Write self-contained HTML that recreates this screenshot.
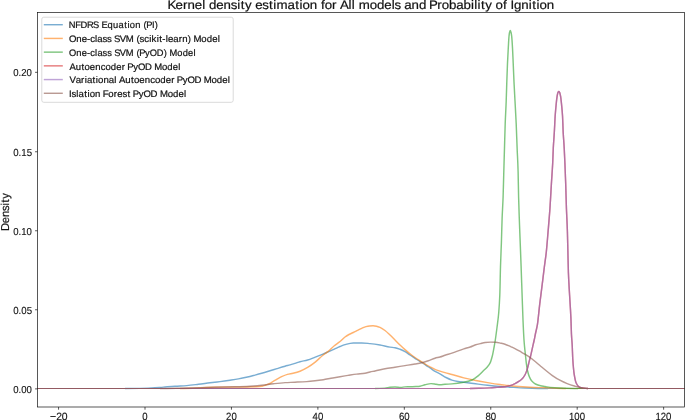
<!DOCTYPE html>
<html><head><meta charset="utf-8"><title>KDE chart</title>
<style>
html,body{margin:0;padding:0;background:#fff;}
body{width:685px;height:420px;overflow:hidden;font-family:"Liberation Sans", sans-serif;}
svg{display:block;}
#main{filter:blur(0.28px);}

</style></head>
<body>
<svg id="main" width="685" height="420" viewBox="0 0 685 420" text-rendering="geometricPrecision">
<rect x="0" y="0" width="685" height="420" fill="#fff"/>
<clipPath id="axA"><rect x="37.45" y="12.45" width="647.05" height="394.55"/></clipPath>
<g clip-path="url(#axA)" fill="none" stroke-linejoin="round" stroke-linecap="butt">
<path d="M37.45,388.50L125.00,388.50M548.00,388.50L684.50,388.50" stroke="#1f77b4" stroke-opacity="0.6" stroke-width="1.0"/>
<path d="M125.00,388.50C130.00,388.50 135.00,388.46 140.00,388.40C143.90,388.36 147.80,388.18 151.70,388.00C155.60,387.82 159.50,387.40 163.40,387.10C167.27,386.80 171.13,386.44 175.00,386.20C178.90,385.96 182.80,385.87 186.70,385.60C190.60,385.33 194.50,384.77 198.40,384.30C202.27,383.84 206.13,383.28 210.00,382.80C213.33,382.39 216.67,382.03 220.00,381.60C223.33,381.17 226.67,380.69 230.00,380.20C232.80,379.79 235.60,379.40 238.40,378.90C241.43,378.36 244.47,377.70 247.50,377.00C250.00,376.43 252.50,375.75 255.00,375.10C257.23,374.52 259.47,373.93 261.70,373.30C264.47,372.52 267.23,371.65 270.00,370.80C272.33,370.08 274.67,369.31 277.00,368.60C279.70,367.78 282.40,366.95 285.10,366.20C286.73,365.74 288.37,365.36 290.00,364.90C291.67,364.43 293.33,363.93 295.00,363.40C296.67,362.87 298.33,362.16 300.00,361.70C302.53,361.01 305.07,360.71 307.60,360.00C310.13,359.29 312.67,358.08 315.20,357.10C317.77,356.11 320.33,355.16 322.90,354.10C324.67,353.37 326.43,352.57 328.20,351.80C330.23,350.91 332.27,350.01 334.30,349.10C336.20,348.25 338.10,347.29 340.00,346.50C341.67,345.81 343.33,345.04 345.00,344.60C347.77,343.87 350.53,343.06 353.30,343.00C356.10,342.94 358.90,342.90 361.70,342.90C364.47,342.90 367.23,343.31 370.00,343.60C373.33,343.95 376.67,344.44 380.00,345.00C383.33,345.56 386.67,346.61 390.00,347.10C391.67,347.35 393.33,347.41 395.00,347.70C396.67,347.99 398.33,348.66 400.00,349.30C401.67,349.94 403.33,350.77 405.00,351.70C406.67,352.63 408.33,353.90 410.00,355.00C411.67,356.10 413.33,357.22 415.00,358.30C416.67,359.38 418.33,360.52 420.00,361.50C421.10,362.14 422.20,362.61 423.30,363.30C424.43,364.01 425.57,365.03 426.70,365.80C427.80,366.55 428.90,367.18 430.00,367.90C431.67,368.99 433.33,370.34 435.00,371.30C436.67,372.26 438.33,372.88 440.00,373.80C442.00,374.90 444.00,376.47 446.00,377.50C447.97,378.51 449.93,379.50 451.90,380.10C453.90,380.71 455.90,381.16 457.90,381.50C459.87,381.84 461.83,382.04 463.80,382.30C467.77,382.82 471.73,383.32 475.70,383.80C479.67,384.28 483.63,384.78 487.60,385.20C491.73,385.64 495.87,386.05 500.00,386.40C504.00,386.74 508.00,387.05 512.00,387.30C516.33,387.57 520.67,387.86 525.00,388.00C532.67,388.25 540.33,388.50 548.00,388.50" stroke="#1f77b4" stroke-opacity="0.6" stroke-width="1.45"/>
<path d="M37.45,388.50L180.00,388.50M566.00,388.50L684.50,388.50" stroke="#ff7f0e" stroke-opacity="0.6" stroke-width="1.0"/>
<path d="M180.00,388.50C186.67,388.50 193.33,388.24 200.00,388.00C205.00,387.82 210.00,387.10 215.00,387.10C222.80,387.10 230.60,387.10 238.40,387.10C244.23,387.10 250.07,386.98 255.90,386.80C258.00,386.73 260.10,386.59 262.20,386.30C263.47,386.13 264.73,385.46 266.00,385.00C267.30,384.53 268.60,384.13 269.90,383.50C270.93,383.00 271.97,382.13 273.00,381.50C274.17,380.79 275.33,380.15 276.50,379.50C278.20,378.55 279.90,377.49 281.60,376.70C283.53,375.81 285.47,374.94 287.40,374.40C289.27,373.88 291.13,373.65 293.00,373.20C295.33,372.63 297.67,372.05 300.00,371.20C302.53,370.28 305.07,368.88 307.60,367.40C310.13,365.92 312.67,364.09 315.20,362.10C317.77,360.09 320.33,357.23 322.90,355.20C324.67,353.80 326.43,352.83 328.20,351.40C330.23,349.76 332.27,347.37 334.30,345.70C336.20,344.14 338.10,343.04 340.00,341.50C341.67,340.15 343.33,338.22 345.00,337.00C346.33,336.02 347.67,335.21 349.00,334.50C350.43,333.73 351.87,333.19 353.30,332.50C354.70,331.83 356.10,331.10 357.50,330.40C358.90,329.70 360.30,328.92 361.70,328.30C363.13,327.67 364.57,326.94 366.00,326.60C367.17,326.32 368.33,326.10 369.50,326.00C370.67,325.90 371.83,325.80 373.00,325.80C374.17,325.80 375.33,326.00 376.50,326.20C377.67,326.40 378.83,326.89 380.00,327.40C381.67,328.12 383.33,329.28 385.00,330.50C386.67,331.72 388.33,333.42 390.00,335.00C391.67,336.58 393.33,338.33 395.00,340.00C396.67,341.67 398.33,343.40 400.00,345.00C401.67,346.60 403.33,348.14 405.00,349.60C406.67,351.06 408.33,352.49 410.00,353.80C411.67,355.11 413.33,356.34 415.00,357.50C416.67,358.66 418.33,359.72 420.00,360.80C421.10,361.51 422.20,362.21 423.30,362.90C424.43,363.61 425.57,364.32 426.70,365.00C427.80,365.66 428.90,366.31 430.00,366.90C431.67,367.80 433.33,368.73 435.00,369.40C436.67,370.07 438.33,370.57 440.00,371.10C441.67,371.63 443.33,372.12 445.00,372.60C447.30,373.26 449.60,373.86 451.90,374.50C455.87,375.61 459.83,376.92 463.80,377.90C467.77,378.88 471.73,379.73 475.70,380.50C479.67,381.27 483.63,381.95 487.60,382.60C491.73,383.28 495.87,383.95 500.00,384.50C501.67,384.72 503.33,384.90 505.00,385.10C508.33,385.50 511.67,386.01 515.00,386.30C520.00,386.74 525.00,387.08 530.00,387.30C535.00,387.52 540.00,387.63 545.00,387.80C552.00,388.03 559.00,388.50 566.00,388.50" stroke="#ff7f0e" stroke-opacity="0.6" stroke-width="1.45"/>
<path d="M37.45,388.50L375.00,388.50M578.00,388.50L684.50,388.50" stroke="#2ca02c" stroke-opacity="0.6" stroke-width="1.0"/>
<path d="M375.00,388.50C378.33,388.50 381.67,388.33 385.00,388.10C386.67,387.99 388.33,387.45 390.00,387.30C391.67,387.15 393.33,387.00 395.00,387.00C397.00,387.00 399.00,387.40 401.00,387.40C402.33,387.40 403.67,386.95 405.00,386.90C406.67,386.84 408.33,386.85 410.00,386.80C412.00,386.74 414.00,386.62 416.00,386.50C417.33,386.42 418.67,386.35 420.00,386.20C421.67,386.01 423.33,385.19 425.00,384.80C427.00,384.33 429.00,383.60 431.00,383.60C432.67,383.60 434.33,383.98 436.00,384.20C437.33,384.38 438.67,384.80 440.00,384.80C441.67,384.80 443.33,384.42 445.00,384.30C447.33,384.13 449.67,384.08 452.00,383.90C455.93,383.59 459.87,383.03 463.80,382.30C466.57,381.79 469.33,381.12 472.10,380.00C474.10,379.19 476.10,377.52 478.10,375.90C479.70,374.60 481.30,372.75 482.90,371.20C484.37,369.78 485.83,368.69 487.30,367.00C488.20,365.96 489.10,364.97 490.00,363.20C490.77,361.70 491.53,358.98 492.30,356.00C492.90,353.67 493.50,350.25 494.10,347.00C494.50,344.84 494.90,342.59 495.30,340.00C495.87,336.34 496.43,331.98 497.00,327.50C497.58,322.88 498.17,319.29 498.75,312.50C499.10,308.43 499.45,303.53 499.80,295.00C500.03,289.32 500.27,273.96 500.50,266.40C500.80,256.68 501.10,251.57 501.40,242.60C501.63,235.62 501.87,225.08 502.10,218.80C502.43,209.83 502.77,206.24 503.10,197.00C503.33,190.53 503.57,179.62 503.80,171.40C504.03,163.18 504.27,155.53 504.50,147.60C504.73,139.67 504.97,130.24 505.20,123.80C505.53,114.59 505.87,109.94 506.20,101.00C506.40,95.64 506.60,87.94 506.80,82.10C507.03,75.28 507.27,68.34 507.50,63.10C507.77,57.12 508.03,52.59 508.30,47.90C508.53,43.80 508.77,38.63 509.00,36.40C509.20,34.49 509.40,33.03 509.60,32.30C509.83,31.45 510.07,30.60 510.30,30.60C510.53,30.60 510.77,31.50 511.00,32.30C511.23,33.10 511.47,34.48 511.70,36.40C511.97,38.60 512.23,43.27 512.50,47.90C512.73,51.95 512.97,57.81 513.20,63.10C513.47,69.14 513.73,76.46 514.00,82.10C514.33,89.15 514.67,94.68 515.00,101.00C515.40,108.58 515.80,114.89 516.20,123.80C516.50,130.49 516.80,140.08 517.10,147.60C517.43,155.96 517.77,160.11 518.10,171.40C518.27,177.04 518.43,190.46 518.60,197.00C518.83,206.16 519.07,212.10 519.30,218.80C519.60,227.41 519.90,234.67 520.20,242.60C520.50,250.53 520.80,258.16 521.10,266.40C521.43,275.55 521.77,285.61 522.10,295.00C522.40,303.45 522.70,313.00 523.00,320.00C523.33,327.77 523.67,335.15 524.00,340.00C524.20,342.91 524.40,345.00 524.60,347.10C524.90,350.26 525.20,352.72 525.50,355.50C525.80,358.28 526.10,361.60 526.40,363.80C526.80,366.74 527.20,369.27 527.60,371.00C528.20,373.59 528.80,375.51 529.40,376.90C530.20,378.75 531.00,380.20 531.80,381.10C533.00,382.46 534.20,383.41 535.40,384.00C537.17,384.87 538.93,385.42 540.70,385.80C542.13,386.11 543.57,386.26 545.00,386.50C546.67,386.78 548.33,387.23 550.00,387.40C553.33,387.74 556.67,387.92 560.00,388.05C566.00,388.28 572.00,388.50 578.00,388.50" stroke="#2ca02c" stroke-opacity="0.6" stroke-width="1.45"/>
<path d="M37.45,388.50L470.00,388.50M588.00,388.50L684.50,388.50" stroke="#d62728" stroke-opacity="0.6" stroke-width="1.0"/>
<path d="M470.00,388.50C473.33,388.50 476.67,388.39 480.00,388.30C483.33,388.21 486.67,388.07 490.00,387.90C492.33,387.78 494.67,387.57 497.00,387.40C499.67,387.20 502.33,387.12 505.00,386.80C506.67,386.60 508.33,386.10 510.00,385.60C511.67,385.10 513.33,384.41 515.00,383.60C516.33,382.96 517.67,382.07 519.00,381.20C519.90,380.61 520.80,380.13 521.70,379.30C522.87,378.23 524.03,376.67 525.20,374.50C525.93,373.14 526.67,370.97 527.40,368.60C528.00,366.66 528.60,363.78 529.20,361.40C529.80,359.02 530.40,356.83 531.00,354.30C531.53,352.05 532.07,349.48 532.60,347.10C533.13,344.72 533.67,342.51 534.20,340.00C534.60,338.11 535.00,335.93 535.40,334.00C536.07,330.78 536.73,328.74 537.40,324.70C538.17,320.06 538.93,310.69 539.70,304.30C540.47,297.91 541.23,292.37 542.00,286.20C542.73,280.30 543.47,273.92 544.20,268.10C544.90,262.55 545.60,258.46 546.30,252.00C546.90,246.46 547.50,238.57 548.10,231.40C548.73,223.83 549.37,216.81 550.00,207.60C550.47,200.82 550.93,191.49 551.40,183.80C551.83,176.66 552.27,171.72 552.70,163.00C552.90,158.98 553.10,151.79 553.30,147.90C553.63,141.42 553.97,138.26 554.30,132.60C554.60,127.51 554.90,119.82 555.20,115.50C555.53,110.70 555.87,107.24 556.20,104.00C556.50,101.09 556.80,98.21 557.10,96.40C557.37,94.79 557.63,93.12 557.90,92.60C558.20,92.01 558.50,91.50 558.80,91.50C559.10,91.50 559.40,92.03 559.70,92.60C560.00,93.17 560.30,94.71 560.60,96.40C560.90,98.09 561.20,101.09 561.50,104.00C561.83,107.24 562.17,110.17 562.50,115.50C562.73,119.23 562.97,128.15 563.20,132.60C563.53,138.96 563.87,141.87 564.20,147.90C564.43,152.12 564.67,157.51 564.90,163.00C565.17,169.27 565.43,175.92 565.70,183.80C565.93,190.70 566.17,201.00 566.40,207.60C566.73,217.03 567.07,221.03 567.40,231.40C567.57,236.58 567.73,245.13 567.90,252.00C568.07,258.87 568.23,268.06 568.40,272.60C568.80,283.50 569.20,287.95 569.60,295.20C570.03,303.06 570.47,308.23 570.90,317.90C571.10,322.36 571.30,331.16 571.50,335.00C571.73,339.48 571.97,340.78 572.20,345.00C572.40,348.62 572.60,356.40 572.80,359.50C573.27,366.74 573.73,371.39 574.20,374.30C574.90,378.66 575.60,381.72 576.30,383.20C577.20,385.10 578.10,386.47 579.00,386.90C580.47,387.60 581.93,387.91 583.40,388.10C584.93,388.30 586.47,388.50 588.00,388.50" stroke="#d62728" stroke-opacity="0.6" stroke-width="1.45"/>
<path d="M37.45,388.50L470.00,388.50M588.00,388.50L684.50,388.50" stroke="#9467bd" stroke-opacity="0.6" stroke-width="1.0"/>
<path d="M470.00,388.50C473.33,388.50 476.67,388.39 480.00,388.30C483.33,388.21 486.67,388.07 490.00,387.90C492.33,387.78 494.67,387.57 497.00,387.40C499.67,387.20 502.33,387.12 505.00,386.80C506.67,386.60 508.33,386.10 510.00,385.60C511.67,385.10 513.33,384.41 515.00,383.60C516.33,382.96 517.67,382.07 519.00,381.20C519.90,380.61 520.80,380.13 521.70,379.30C522.87,378.23 524.03,376.67 525.20,374.50C525.93,373.14 526.67,370.97 527.40,368.60C528.00,366.66 528.60,363.78 529.20,361.40C529.80,359.02 530.40,356.83 531.00,354.30C531.53,352.05 532.07,349.48 532.60,347.10C533.13,344.72 533.67,342.51 534.20,340.00C534.60,338.11 535.00,335.93 535.40,334.00C536.07,330.78 536.73,328.74 537.40,324.70C538.17,320.06 538.93,310.69 539.70,304.30C540.47,297.91 541.23,292.37 542.00,286.20C542.73,280.30 543.47,273.92 544.20,268.10C544.90,262.55 545.60,258.46 546.30,252.00C546.90,246.46 547.50,238.57 548.10,231.40C548.73,223.83 549.37,216.81 550.00,207.60C550.47,200.82 550.93,191.49 551.40,183.80C551.83,176.66 552.27,171.72 552.70,163.00C552.90,158.98 553.10,151.79 553.30,147.90C553.63,141.42 553.97,138.26 554.30,132.60C554.60,127.51 554.90,119.82 555.20,115.50C555.53,110.70 555.87,107.24 556.20,104.00C556.50,101.09 556.80,98.21 557.10,96.40C557.37,94.79 557.63,93.12 557.90,92.60C558.20,92.01 558.50,91.50 558.80,91.50C559.10,91.50 559.40,92.03 559.70,92.60C560.00,93.17 560.30,94.71 560.60,96.40C560.90,98.09 561.20,101.09 561.50,104.00C561.83,107.24 562.17,110.17 562.50,115.50C562.73,119.23 562.97,128.15 563.20,132.60C563.53,138.96 563.87,141.87 564.20,147.90C564.43,152.12 564.67,157.51 564.90,163.00C565.17,169.27 565.43,175.92 565.70,183.80C565.93,190.70 566.17,201.00 566.40,207.60C566.73,217.03 567.07,221.03 567.40,231.40C567.57,236.58 567.73,245.13 567.90,252.00C568.07,258.87 568.23,268.06 568.40,272.60C568.80,283.50 569.20,287.95 569.60,295.20C570.03,303.06 570.47,308.23 570.90,317.90C571.10,322.36 571.30,331.16 571.50,335.00C571.73,339.48 571.97,340.78 572.20,345.00C572.40,348.62 572.60,356.40 572.80,359.50C573.27,366.74 573.73,371.39 574.20,374.30C574.90,378.66 575.60,381.72 576.30,383.20C577.20,385.10 578.10,386.47 579.00,386.90C580.47,387.60 581.93,387.91 583.40,388.10C584.93,388.30 586.47,388.50 588.00,388.50" stroke="#9467bd" stroke-opacity="0.6" stroke-width="1.45"/>
<path d="M37.45,388.50L160.00,388.50M588.00,388.50L684.50,388.50" stroke="#8c564b" stroke-opacity="0.6" stroke-width="1.0"/>
<path d="M160.00,388.50C166.67,388.50 173.33,388.36 180.00,388.25C186.67,388.14 193.33,387.98 200.00,387.80C205.00,387.66 210.00,387.44 215.00,387.30C221.67,387.11 228.33,387.01 235.00,386.80C240.00,386.64 245.00,386.47 250.00,386.20C253.90,385.99 257.80,385.68 261.70,385.30C265.60,384.92 269.50,384.13 273.40,383.70C277.30,383.27 281.20,382.82 285.10,382.60C288.40,382.42 291.70,382.35 295.00,382.20C298.90,382.02 302.80,381.87 306.70,381.60C309.47,381.41 312.23,381.11 315.00,380.80C317.77,380.49 320.53,380.12 323.30,379.70C325.87,379.31 328.43,378.76 331.00,378.30C334.00,377.76 337.00,377.21 340.00,376.70C342.67,376.25 345.33,375.82 348.00,375.40C350.90,374.95 353.80,374.44 356.70,374.10C359.47,373.78 362.23,373.70 365.00,373.30C366.67,373.06 368.33,372.38 370.00,372.00C371.67,371.62 373.33,371.35 375.00,371.00C378.33,370.31 381.67,369.42 385.00,368.80C388.33,368.18 391.67,367.73 395.00,367.20C398.33,366.67 401.67,366.13 405.00,365.60C408.33,365.07 411.67,364.57 415.00,364.00C417.23,363.62 419.47,363.30 421.70,362.80C423.90,362.30 426.10,361.55 428.30,360.80C430.53,360.04 432.77,358.85 435.00,358.20C436.67,357.71 438.33,357.47 440.00,357.00C441.67,356.53 443.33,355.85 445.00,355.30C447.30,354.54 449.60,353.87 451.90,353.10C455.87,351.78 459.83,350.17 463.80,348.90C465.93,348.22 468.07,347.73 470.20,347.00C472.03,346.37 473.87,345.37 475.70,344.80C477.27,344.31 478.83,343.98 480.40,343.60C482.00,343.21 483.60,342.68 485.20,342.50C487.03,342.30 488.87,342.10 490.70,342.10C492.40,342.10 494.10,342.14 495.80,342.20C497.50,342.26 499.20,342.83 500.90,343.20C502.27,343.50 503.63,343.78 505.00,344.20C507.03,344.82 509.07,345.92 511.10,346.80C512.23,347.29 513.37,347.75 514.50,348.30C516.77,349.40 519.03,350.79 521.30,352.10C522.20,352.62 523.10,353.17 524.00,353.70C525.50,354.58 527.00,355.32 528.50,356.30C530.20,357.42 531.90,358.84 533.60,360.20C535.97,362.09 538.33,364.21 540.70,366.20C542.13,367.41 543.57,368.64 545.00,369.80C547.47,371.80 549.93,373.89 552.40,375.60C554.87,377.31 557.33,378.90 559.80,380.20C562.27,381.50 564.73,382.65 567.20,383.60C569.63,384.53 572.07,385.29 574.50,386.00C576.50,386.59 578.50,387.26 580.50,387.60C583.00,388.02 585.50,388.50 588.00,388.50" stroke="#8c564b" stroke-opacity="0.6" stroke-width="1.45"/>
</g>
<g stroke="#111" stroke-width="0.7" fill="none">
<rect x="37.45" y="12.45" width="647.05" height="394.55"/>
<line x1="58.56" y1="407.0" x2="58.56" y2="409.7" stroke="#111" stroke-width="0.7"/>
<line x1="145.00" y1="407.0" x2="145.00" y2="409.7" stroke="#111" stroke-width="0.7"/>
<line x1="231.44" y1="407.0" x2="231.44" y2="409.7" stroke="#111" stroke-width="0.7"/>
<line x1="317.88" y1="407.0" x2="317.88" y2="409.7" stroke="#111" stroke-width="0.7"/>
<line x1="404.32" y1="407.0" x2="404.32" y2="409.7" stroke="#111" stroke-width="0.7"/>
<line x1="490.76" y1="407.0" x2="490.76" y2="409.7" stroke="#111" stroke-width="0.7"/>
<line x1="577.20" y1="407.0" x2="577.20" y2="409.7" stroke="#111" stroke-width="0.7"/>
<line x1="663.64" y1="407.0" x2="663.64" y2="409.7" stroke="#111" stroke-width="0.7"/>
<line x1="35.050000000000004" y1="388.88" x2="37.45" y2="388.88" stroke="#111" stroke-width="0.7"/>
<line x1="35.050000000000004" y1="309.76" x2="37.45" y2="309.76" stroke="#111" stroke-width="0.7"/>
<line x1="35.050000000000004" y1="230.76" x2="37.45" y2="230.76" stroke="#111" stroke-width="0.7"/>
<line x1="35.050000000000004" y1="151.76" x2="37.45" y2="151.76" stroke="#111" stroke-width="0.7"/>
<line x1="35.050000000000004" y1="72.32" x2="37.45" y2="72.32" stroke="#111" stroke-width="0.7"/>
</g>
<g font-family='"Liberation Sans", sans-serif' fill="#222">
<text transform="translate(49.55,419.80) scale(0.9886,1)" x="0.47 6.87 12.26" y="0" font-size="10.55" fill="#111" stroke="#111" stroke-width="0.12" >−20</text>
<text transform="translate(142.34,419.80) scale(0.9091,1)" x="0.00" y="0" font-size="10.55" fill="#111" stroke="#111" stroke-width="0.12" >0</text>
<text transform="translate(226.08,419.80) scale(0.9091,1)" x="0.00 5.86" y="0" font-size="10.55" fill="#111" stroke="#111" stroke-width="0.12" >20</text>
<text transform="translate(312.62,419.80) scale(0.9091,1)" x="0.00 5.86" y="0" font-size="10.55" fill="#111" stroke="#111" stroke-width="0.12" >40</text>
<text transform="translate(398.97,419.80) scale(0.9091,1)" x="0.00 5.86" y="0" font-size="10.55" fill="#111" stroke="#111" stroke-width="0.12" >60</text>
<text transform="translate(485.42,419.80) scale(0.9091,1)" x="0.00 5.86" y="0" font-size="10.55" fill="#111" stroke="#111" stroke-width="0.12" >80</text>
<text transform="translate(569.02,419.80) scale(0.9091,1)" x="-0.00 5.86 11.73" y="0" font-size="10.55" fill="#111" stroke="#111" stroke-width="0.12" >100</text>
<text transform="translate(655.46,419.80) scale(0.9091,1)" x="-0.00 5.86 11.73" y="0" font-size="10.55" fill="#111" stroke="#111" stroke-width="0.12" >120</text>
<text transform="translate(13.25,392.73) scale(0.9455,1)" x="-0.00 5.64 8.46 14.10" y="0" font-size="10.14" fill="#111" stroke="#111" stroke-width="0.12" >0.00</text>
<text transform="translate(13.24,313.82) scale(0.9455,1)" x="-0.00 5.70 8.54 14.24" y="0" font-size="10.24" fill="#111" stroke="#111" stroke-width="0.12" >0.05</text>
<text transform="translate(13.25,234.82) scale(0.9455,1)" x="-0.00 5.64 8.46 14.10" y="0" font-size="10.14" fill="#111" stroke="#111" stroke-width="0.12" >0.10</text>
<text transform="translate(13.24,155.82) scale(0.9455,1)" x="-0.00 5.70 8.54 14.24" y="0" font-size="10.24" fill="#111" stroke="#111" stroke-width="0.12" >0.15</text>
<text transform="translate(13.25,75.73) scale(0.9455,1)" x="-0.00 5.64 8.46 14.10" y="0" font-size="10.14" fill="#111" stroke="#111" stroke-width="0.12" >0.20</text>
<text transform="translate(168.06,8.80) scale(1.0802,1)" x="-0.58 6.94 13.84 18.08 24.80 31.66 34.53 37.94 44.66 51.38 57.94 63.95 67.21 71.14 77.40 80.70 87.16 93.44 97.39 100.36 110.61 117.73 121.67 124.40 131.10 137.94 141.54 145.01 151.89 156.15 159.15 167.06 170.05 172.91 176.44 186.68 193.39 200.11 206.97 209.56 215.44 218.73 225.44 232.27 239.11 241.66 249.18 253.31 260.01 266.72 273.44 280.40 283.39 286.38 289.64 293.57 299.83 303.12 310.02 313.62 316.92 320.20 327.03 333.99 337.25 341.20 343.93 350.63" y="0" font-size="12.32" fill="#111" stroke="#111" stroke-width="0.2" >Kernel density estimation for All models and Probability of Ignition</text>
<g transform="translate(8.5,230.0) rotate(-90)"><text transform="translate(-0.67,0.00) scale(0.9829,1)" x="-0.27 7.65 13.92 20.05 25.66 28.71 32.38" y="0" font-size="11.46" fill="#111" stroke="#111" stroke-width="0.2" >Density</text></g>
</g>
<rect x="41.8" y="17.2" width="191.39999999999998" height="85.1" rx="2" ry="2" fill="#fff" fill-opacity="0.8" stroke="#d6d6d6" stroke-width="0.9"/>
<g font-family='"Liberation Sans", sans-serif' fill="#222">
<line x1="43.8" y1="24.70" x2="62.8" y2="24.70" stroke="#1f77b4" stroke-opacity="0.6" stroke-width="1.45"/>
<text transform="translate(68.94,28.00) scale(0.9847,1)" x="-0.09 6.33 11.79 18.31 24.49 30.57 32.96 39.12 44.77 50.31 56.10 59.35 61.73 67.27 72.83 75.72 78.56 84.40 87.18" y="0" font-size="9.47" fill="#111" stroke="#111" stroke-width="0.2" >NFDRS Equation (PI)</text>
<line x1="43.8" y1="38.42" x2="62.8" y2="38.42" stroke="#ff7f0e" stroke-opacity="0.6" stroke-width="1.45"/>
<text transform="translate(69.31,41.75) scale(1.0226,1)" x="-0.31 6.79 12.10 17.31 20.40 25.23 27.45 32.54 36.98 41.60 43.82 49.44 55.24 62.88 65.64 68.73 73.29 78.12 80.46 85.42 88.01 90.95 94.19 96.43 101.66 107.06 110.46 115.87 119.15 121.56 129.14 134.45 139.77 145.15" y="0" font-size="9.40" fill="#111" stroke="#111" stroke-width="0.2" >One-class SVM (scikit-learn) Model</text>
<line x1="43.8" y1="52.14" x2="62.8" y2="52.14" stroke="#2ca02c" stroke-opacity="0.6" stroke-width="1.45"/>
<text transform="translate(69.31,55.80) scale(0.9936,1)" x="-0.21 7.05 12.51 17.83 21.03 25.96 28.29 33.51 38.07 42.79 45.13 50.90 56.89 64.66 67.50 70.28 76.29 81.02 88.09 94.99 98.35 100.91 108.66 114.12 119.59 125.06" y="0" font-size="9.39" fill="#111" stroke="#111" stroke-width="0.2" >One-class SVM (PyOD) Model</text>
<line x1="43.8" y1="65.86" x2="62.8" y2="65.86" stroke="#d62728" stroke-opacity="0.6" stroke-width="1.45"/>
<text transform="translate(69.73,69.70) scale(1.0189,1)" x="-0.21 5.91 11.58 14.54 19.76 25.07 30.37 35.04 40.35 45.66 51.07 54.43 56.52 62.39 66.95 73.83 80.54 82.96 90.53 95.83 101.14 106.50" y="0" font-size="9.36" fill="#111" stroke="#111" stroke-width="0.2" >Autoencoder PyOD Model</text>
<line x1="43.8" y1="79.58" x2="62.8" y2="79.58" stroke="#9467bd" stroke-opacity="0.6" stroke-width="1.45"/>
<text transform="translate(69.73,83.00) scale(1.0310,1)" x="-0.25 5.72 11.06 14.48 16.65 22.18 25.25 27.43 32.66 37.89 43.20 45.44 47.83 53.88 59.49 62.40 67.56 72.80 78.04 82.66 87.89 93.14 98.50 101.82 103.86 109.66 114.16 120.96 127.60 129.97 137.45 142.69 147.94 153.25" y="0" font-size="9.35" fill="#111" stroke="#111" stroke-width="0.2" >Variational Autoencoder PyOD Model</text>
<line x1="43.8" y1="93.30" x2="62.8" y2="93.30" stroke="#8c564b" stroke-opacity="0.6" stroke-width="1.45"/>
<text transform="translate(68.94,96.60) scale(1.0191,1)" x="-0.05 2.40 7.13 9.36 14.98 18.11 20.34 25.67 31.05 33.31 38.64 44.07 47.41 52.54 57.50 60.53 62.64 68.54 73.13 80.06 86.81 89.25 96.86 102.20 107.55 112.94" y="0" font-size="9.42" fill="#111" stroke="#111" stroke-width="0.2" >Islation Forest PyOD Model</text>
</g>
</svg>

</body></html>
